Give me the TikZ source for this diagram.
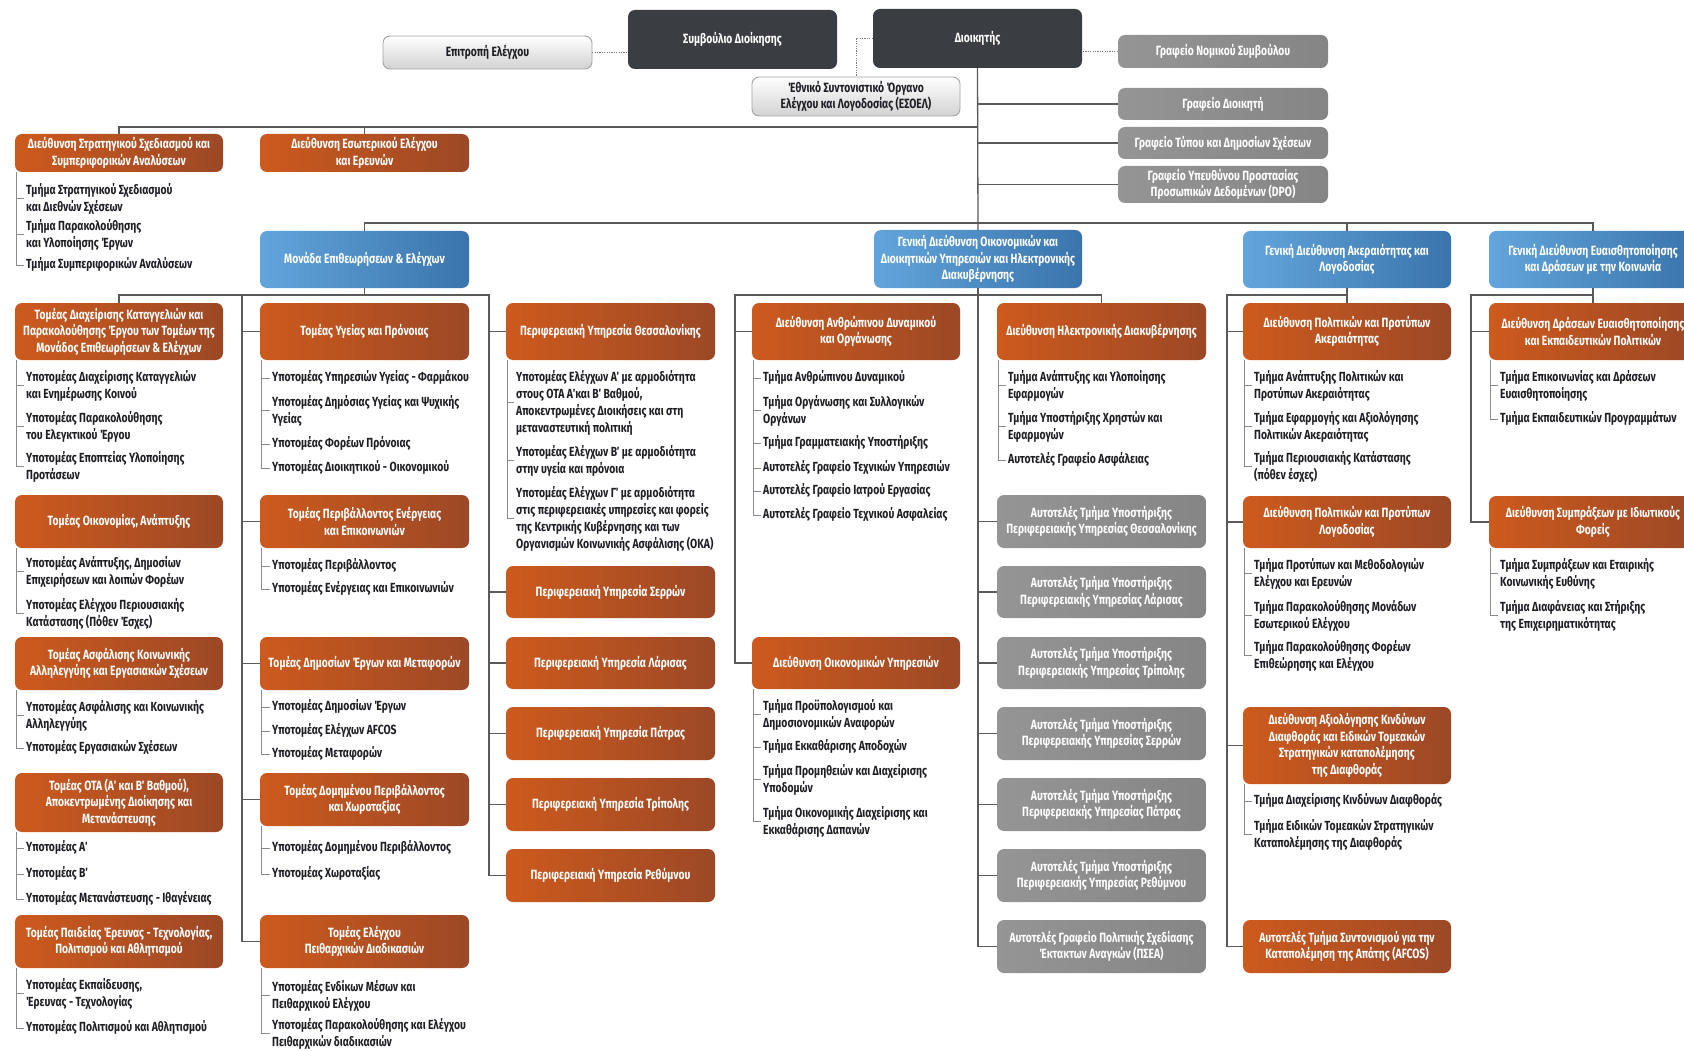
\documentclass[tikz,border=0pt]{standalone}
\usepackage{fontspec}
\setmainfont{Fira Sans}[FakeStretch=0.78]
\newfontfamily\boxfont{Fira Sans}[FakeStretch=0.77]
\newfontfamily\itfont{Fira Sans}[FakeStretch=0.785]
\usetikzlibrary{calc}
\definecolor{orL}{HTML}{CD5A1D}
\definecolor{orR}{HTML}{9C4826}
\definecolor{blL}{HTML}{62A5DC}
\definecolor{blR}{HTML}{3A74AC}
\definecolor{grL}{HTML}{959595}
\definecolor{grR}{HTML}{858585}
\definecolor{dk}{HTML}{3A3D42}
\definecolor{ltB}{HTML}{D2D2D2}
\definecolor{ltD}{HTML}{A3A3A3}
\definecolor{lnC}{HTML}{5A5A5A}
\definecolor{trC}{HTML}{8A8A8A}
\definecolor{txC}{HTML}{1E1E24}
\tikzset{
  ofill/.style={left color=orL, right color=orR},
  bfill/.style={left color=blL, right color=blR},
  gfill/.style={left color=grL, right color=grR},
  dfill/.style={fill=dk},
  lfill/.style={top color=white, bottom color=ltB, draw=ltD, line width=0.9pt},
  wtext/.style={text=white, font=\boxfont\bfseries\fontsize{13.4}{16.5}\selectfont, align=center, inner sep=0pt},
  otext/.style={wtext}, btext/.style={wtext}, gtext/.style={wtext}, dtext/.style={wtext},
  ltext/.style={wtext, text=txC},
  itext/.style={text=txC, font=\itfont\bfseries\fontsize{13.2}{17}\selectfont, align=left, inner sep=0pt, anchor=north west},
  conn/.style={draw=lnC, line width=1.3pt},
  dotc/.style={draw=lnC!80, line width=1pt, dash pattern=on 1.2pt off 1.2pt},
  treel/.style={draw=trC, line width=0.8pt},
}
\newcommand\bx[7]{%
  \pgfmathsetmacro\bxw{#5-#3}\pgfmathsetmacro\bxh{#6-#4}%
  \path[#1fill] ({(#3+#5)/2},#6) [rounded corners=7pt] -- (#3,#6) -- (#3,#4) -- (#5,#4) -- (#5,#6) [sharp corners] -- cycle;
  \node[#1text, minimum width=\bxw pt, minimum height=\bxh pt] (#2) at ({(#3+#5)/2},{(#4+#6)/2}) {#7};}
\newcommand\itm[4]{\node[itext] (#1) at (#2,{#3-7.8}) {\strut #4};}
\newcommand\tree[2]{\foreach \k in {#2} {\draw[treel] ([xshift=2pt]#1.south west) |- ([xshift=-2pt]\k.west);}}
\begin{document}
\begin{tikzpicture}[x=1pt,y=-1pt]
\fill[white] (0,0) rectangle (1684,1051);
\useasboundingbox (0,0) rectangle (1684,1051);
% top
\bx{l}{epit}{383}{36}{592}{69}{Επιτροπή Ελέγχου}
\bx{d}{symv}{628}{10}{837}{69}{Συμβούλιο Διοίκησης}
\bx{d}{dioik}{873}{9}{1082}{68}{Διοικητής}
\bx{l}{esoel}{752}{77}{960}{116}{Έθνικό Συντονιστικό Όργανο\\Ελέγχου και Λογοδοσίας (ΕΣΟΕΛ)}
\bx{g}{nomik}{1118}{35}{1328}{68}{Γραφείο Νομικού Συμβούλου}
\bx{g}{grdioik}{1118}{88}{1328}{120}{Γραφείο Διοικητή}
\bx{g}{typou}{1118}{127}{1328}{159}{Γραφείο Τύπου και Δημοσίων Σχέσεων}
\bx{g}{dpo}{1118}{166}{1328}{203}{Γραφείο Υπευθύνου Προστασίας\\Προσωπικών Δεδομένων (DPO)}
% row 1
\bx{o}{strat}{15}{134}{223}{172}{Διεύθυνση Στρατηγικού Σχεδιασμού και\\Συμπεριφορικών Αναλύσεων}
\bx{o}{esot}{260}{134}{469}{172}{Διεύθυνση Εσωτερικού Ελέγχου\\και Ερευνών}
\itm{s1}{26}{190}{Τμήμα Στρατηγικού Σχεδιασμού\\και Διεθνών Σχέσεων}
\itm{s2}{26}{226}{Τμήμα Παρακολούθησης\\και Υλοποίησης Έργων}
\itm{s3}{26}{264}{Τμήμα Συμπεριφορικών Αναλύσεων}
\tree{strat}{s1,s2,s3}
% blue
\bx{b}{monada}{260}{231}{469}{288}{Μονάδα Επιθεωρήσεων \& Ελέγχων}
\bx{b}{gdoik}{874}{230}{1082}{288}{Γενική Διεύθυνση Οικονομικών και\\Διοικητικών Υπηρεσιών και Ηλεκτρονικής\\Διακυβέρνησης}
\bx{b}{gdak}{1243}{231}{1451}{288}{Γενική Διεύθυνση Ακεραιότητας και\\Λογοδοσίας}
\bx{b}{gdeu}{1489}{231}{1697}{288}{Γενική Διεύθυνση Ευαισθητοποίησης\\και Δράσεων με την Κοινωνία}
% column A
\bx{o}{A1}{15}{303}{223}{360}{Τομέας Διαχείρισης Καταγγελιών και\\Παρακολούθησης Έργου των Τομέων της\\Μονάδος Επιθεωρήσεων \& Ελέγχων}
\itm{a11}{26}{377}{Υποτομέας Διαχείρισης Καταγγελιών\\και Ενημέρωσης Κοινού}
\itm{a12}{26}{418}{Υποτομέας Παρακολούθησης\\του Ελεγκτικού Έργου}
\itm{a13}{26}{458}{Υποτομέας Εποπτείας Υλοποίησης\\Προτάσεων}
\tree{A1}{a11,a12,a13}
\bx{o}{A2}{15}{495}{223}{548}{Τομέας Οικονομίας, Ανάπτυξης}
\itm{a21}{26}{563}{Υποτομέας Ανάπτυξης, Δημοσίων\\Επιχειρήσεων και λοιπών Φορέων}
\itm{a22}{26}{605}{Υποτομέας Ελέγχου Περιουσιακής\\Κατάστασης (Πόθεν Έσχες)}
\tree{A2}{a21,a22}
\bx{o}{A3}{15}{637}{223}{690}{Τομέας Ασφάλισης Κοινωνικής\\Αλληλεγγύης και Εργασιακών Σχέσεων}
\itm{a31}{26}{707}{Υποτομέας Ασφάλισης και Κοινωνικής\\Αλληλεγγύης}
\itm{a32}{26}{747}{Υποτομέας Εργασιακών Σχέσεων}
\tree{A3}{a31,a32}
\bx{o}{A4}{15}{773}{223}{832}{Τομέας ΟΤΑ (Α΄ και Β΄ Βαθμού),\\Αποκεντρωμένης Διοίκησης και\\Μετανάστευσης}
\itm{a41}{26}{847}{Υποτομέας Α΄}
\itm{a42}{26}{873}{Υποτομέας Β΄}
\itm{a43}{26}{898}{Υποτομέας Μετανάστευσης - Ιθαγένειας}
\tree{A4}{a41,a42,a43}
\bx{o}{A5}{15}{915}{223}{968}{Τομέας Παιδείας Έρευνας - Τεχνολογίας,\\Πολιτισμού και Αθλητισμού}
\itm{a51}{26}{985}{Υποτομέας Εκπαίδευσης,\\Έρευνας - Τεχνολογίας}
\itm{a52}{26}{1027}{Υποτομέας Πολιτισμού και Αθλητισμού}
\tree{A5}{a51,a52}
% column B
\bx{o}{B1}{260}{303}{469}{360}{Τομέας Υγείας και Πρόνοιας}
\itm{b11}{272}{377}{Υποτομέας Υπηρεσιών Υγείας - Φαρμάκου}
\itm{b12}{272}{402}{Υποτομέας Δημόσιας Υγείας και Ψυχικής\\Υγείας}
\itm{b13}{272}{443}{Υποτομέας Φορέων Πρόνοιας}
\itm{b14}{272}{467}{Υποτομέας Διοικητικού - Οικονομικού}
\tree{B1}{b11,b12,b13,b14}
\bx{o}{B2}{260}{495}{469}{548}{Τομέας Περιβάλλοντος Ενέργειας\\και Επικοινωνιών}
\itm{b21}{272}{565}{Υποτομέας Περιβάλλοντος}
\itm{b22}{272}{588}{Υποτομέας Ενέργειας και Επικοινωνιών}
\tree{B2}{b21,b22}
\bx{o}{B3}{260}{637}{469}{690}{Τομέας Δημοσίων Έργων και Μεταφορών}
\itm{b31}{272}{706}{Υποτομέας Δημοσίων Έργων}
\itm{b32}{272}{730}{Υποτομέας Ελέγχων AFCOS}
\itm{b33}{272}{753}{Υποτομέας Μεταφορών}
\tree{B3}{b31,b32,b33}
\bx{o}{B4}{260}{773}{469}{826}{Τομέας Δομημένου Περιβάλλοντος\\και Χωροταξίας}
\itm{b41}{272}{847}{Υποτομέας Δομημένου Περιβάλλοντος}
\itm{b42}{272}{873}{Υποτομέας Χωροταξίας}
\tree{B4}{b41,b42}
\bx{o}{B5}{260}{915}{469}{968}{Τομέας Ελέγχου\\Πειθαρχικών Διαδικασιών}
\itm{b51}{272}{987}{Υποτομέας Ενδίκων Μέσων και\\Πειθαρχικού Ελέγχου}
\itm{b52}{272}{1025}{Υποτομέας Παρακολούθησης και Ελέγχου\\Πειθαρχικών διαδικασιών}
\tree{B5}{b51,b52}
% column C
\bx{o}{P1}{506}{303}{715}{360}{Περιφερειακή Υπηρεσία Θεσσαλονίκης}
\itm{p11}{516}{377}{Υποτομέας Ελέγχων Α΄ με αρμοδιότητα\\στους ΟΤΑ Α΄και Β΄ Βαθμού,\\Αποκεντρωμένες Διοικήσεις και στη\\μεταναστευτική πολιτική}
\itm{p12}{516}{452}{Υποτομέας Ελέγχων Β΄ με αρμοδιότητα\\στην υγεία και πρόνοια}
\itm{p13}{516}{493}{Υποτομέας Ελέγχων Γ΄ με αρμοδιότητα\\στις περιφερειακές υπηρεσίες και φορείς\\της Κεντρικής Κυβέρνησης και των\\Οργανισμών Κοινωνικής Ασφάλισης (ΟΚΑ)}
\tree{P1}{p11,p12,p13}
\bx{o}{P2}{506}{566}{715}{618}{Περιφερειακή Υπηρεσία Σερρών}
\bx{o}{P3}{506}{637}{715}{689}{Περιφερειακή Υπηρεσία Λάρισας}
\bx{o}{P4}{506}{707}{715}{760}{Περιφερειακή Υπηρεσία Πάτρας}
\bx{o}{P5}{506}{778}{715}{831}{Περιφερειακή Υπηρεσία Τρίπολης}
\bx{o}{P6}{506}{849}{715}{902}{Περιφερειακή Υπηρεσία Ρεθύμνου}
% column D
\bx{o}{D1}{752}{303}{960}{360}{Διεύθυνση Ανθρώπινου Δυναμικού\\και Οργάνωσης}
\itm{d11}{763}{377}{Τμήμα Ανθρώπινου Δυναμικού}
\itm{d12}{763}{402}{Τμήμα Οργάνωσης και Συλλογικών\\Οργάνων}
\itm{d13}{763}{442}{Τμήμα Γραμματειακής Υποστήριξης}
\itm{d14}{763}{467}{Αυτοτελές Γραφείο Τεχνικών Υπηρεσιών}
\itm{d15}{763}{490}{Αυτοτελές Γραφείο Ιατρού Εργασίας}
\itm{d16}{763}{514}{Αυτοτελές Γραφείο Τεχνικού Ασφαλείας}
\tree{D1}{d11,d12,d13,d14,d15,d16}
\bx{o}{D2}{752}{637}{960}{689}{Διεύθυνση Οικονομικών Υπηρεσιών}
\itm{d21}{763}{706}{Τμήμα Προϋπολογισμού και\\Δημοσιονομικών Αναφορών}
\itm{d22}{763}{746}{Τμήμα Εκκαθάρισης Αποδοχών}
\itm{d23}{763}{771}{Τμήμα Προμηθειών και Διαχείρισης\\Υποδομών}
\itm{d24}{763}{813}{Τμήμα Οικονομικής Διαχείρισης και\\Εκκαθάρισης Δαπανών}
\tree{D2}{d21,d22,d23,d24}
% column E
\bx{o}{E1}{997}{303}{1206}{360}{Διεύθυνση Ηλεκτρονικής Διακυβέρνησης}
\itm{e11}{1008}{377}{Τμήμα Ανάπτυξης και Υλοποίησης\\Εφαρμογών}
\itm{e12}{1008}{418}{Τμήμα Υποστήριξης Χρηστών και\\Εφαρμογών}
\itm{e13}{1008}{459}{Αυτοτελές Γραφείο Ασφάλειας}
\tree{E1}{e11,e12,e13}
\bx{g}{G1}{997}{495}{1206}{548}{Αυτοτελές Τμήμα Υποστήριξης\\Περιφερειακής Υπηρεσίας Θεσσαλονίκης}
\bx{g}{G2}{997}{566}{1206}{618}{Αυτοτελές Τμήμα Υποστήριξης\\Περιφερειακής Υπηρεσίας Λάρισας}
\bx{g}{G3}{997}{637}{1206}{689}{Αυτοτελές Τμήμα Υποστήριξης\\Περιφερειακής Υπηρεσίας Τρίπολης}
\bx{g}{G4}{997}{707}{1206}{760}{Αυτοτελές Τμήμα Υποστήριξης\\Περιφερειακής Υπηρεσίας Σερρών}
\bx{g}{G5}{997}{778}{1206}{831}{Αυτοτελές Τμήμα Υποστήριξης\\Περιφερειακής Υπηρεσίας Πάτρας}
\bx{g}{G6}{997}{849}{1206}{902}{Αυτοτελές Τμήμα Υποστήριξης\\Περιφερειακής Υπηρεσίας Ρεθύμνου}
\bx{g}{G7}{997}{920}{1206}{973}{Αυτοτελές Γραφείο Πολιτικής Σχεδίασης\\Έκτακτων Αναγκών (ΠΣΕΑ)}
% column F
\bx{o}{F1}{1243}{303}{1451}{360}{Διεύθυνση Πολιτικών και Προτύπων\\Ακεραιότητας}
\itm{f11}{1254}{377}{Τμήμα Ανάπτυξης Πολιτικών και\\Προτύπων Ακεραιότητας}
\itm{f12}{1254}{418}{Τμήμα Εφαρμογής και Αξιολόγησης\\Πολιτικών Ακεραιότητας}
\itm{f13}{1254}{458}{Τμήμα Περιουσιακής Κατάστασης\\(πόθεν έσχες)}
\tree{F1}{f11,f12,f13}
\bx{o}{F2}{1243}{496}{1451}{548}{Διεύθυνση Πολιτικών και Προτύπων\\Λογοδοσίας}
\itm{f21}{1254}{565}{Τμήμα Προτύπων και Μεθοδολογιών\\Ελέγχου και Ερευνών}
\itm{f22}{1254}{607}{Τμήμα Παρακολούθησης Μονάδων\\Εσωτερικού Ελέγχου}
\itm{f23}{1254}{647}{Τμήμα Παρακολούθησης Φορέων\\Επιθεώρησης και Ελέγχου}
\tree{F2}{f21,f22,f23}
\bx{o}{F3}{1243}{707}{1451}{784}{Διεύθυνση Αξιολόγησης Κινδύνων\\Διαφθοράς και Ειδικών Τομεακών\\Στρατηγικών καταπολέμησης\\της Διαφθοράς}
\itm{f31}{1254}{800}{Τμήμα Διαχείρισης Κινδύνων Διαφθοράς}
\itm{f32}{1254}{826}{Τμήμα Ειδικών Τομεακών Στρατηγικών\\Καταπολέμησης της Διαφθοράς}
\tree{F3}{f31,f32}
\bx{o}{F4}{1243}{920}{1451}{973}{Αυτοτελές Τμήμα Συντονισμού για την\\Καταπολέμηση της Απάτης (AFCOS)}
% column G
\bx{o}{H1}{1489}{303}{1697}{360}{Διεύθυνση Δράσεων Ευαισθητοποίησης\\και Εκπαιδευτικών Πολιτικών}
\itm{h11}{1500}{377}{Τμήμα Επικοινωνίας και Δράσεων\\Ευαισθητοποίησης}
\itm{h12}{1500}{418}{Τμήμα Εκπαιδευτικών Προγραμμάτων}
\tree{H1}{h11,h12}
\bx{o}{H2}{1489}{496}{1697}{548}{Διεύθυνση Συμπράξεων με Ιδιωτικούς\\Φορείς}
\itm{h21}{1500}{565}{Τμήμα Συμπράξεων και Εταιρικής\\Κοινωνικής Ευθύνης}
\itm{h22}{1500}{607}{Τμήμα Διαφάνειας και Στήριξης\\της Επιχειρηματικότητας}
\tree{H2}{h21,h22}
% connectors
\draw[dotc] (epit.east) -- (epit.east -| symv.west);
\draw[dotc] (nomik.west) -- (nomik.west -| dioik.east);
\draw[dotc] (dioik.west) -| (esoel.north);
\draw[conn] (dioik.south) -- (gdoik.north);
\coordinate (h1) at (978,127);
\draw[conn] (strat.north) |- (h1);
\draw[conn] (esot.north) |- (h1);
\foreach \n in {grdioik,typou,dpo} {\draw[conn] (\n.west) -- (\n.west -| dioik.south);}
\coordinate (h2) at (978,223);
\draw[conn] (monada.north) |- (h2);
\draw[conn] (gdeu.north) |- (h2);
\draw[conn] (gdak.north) -- (gdak.north |- h2);
% under Monada
\coordinate (cB) at (489,295);
\coordinate (cA) at (242,295);
\draw[conn] (monada.south) -- (monada.south |- cB);
\draw[conn] (A1.north) |- (cB) |- (P6.west);
\draw[conn] (cA) |- (B5.west);
\foreach \n in {B1,B2,B3,B4} {\draw[conn] (\n.west) -- (\n.west -| cA);}
\foreach \n in {P1,P2,P3,P4,P5} {\draw[conn] (\n.west) -- (\n.west -| cB);}
% under GD oikonomikon
\coordinate (cD) at (735,295);
\draw[conn] (E1.north) |- (cD) |- (D2.west);
\draw[conn] (D1.west) -- (D1.west -| cD);
\draw[conn] (gdoik.south) |- (G7.west);
\foreach \n in {G1,G2,G3,G4,G5,G6} {\draw[conn] (\n.west) -- (\n.west -| gdoik.south);}
% under GD akeraiotitas
\coordinate (cF) at (1227,295);
\draw[conn] (gdak.south) -- (F1.north);
\draw[conn] (gdak.south |- cF) -- (cF) |- (F4.west);
\foreach \n in {F1,F2,F3} {\draw[conn] (\n.west) -- (\n.west -| cF);}
% under GD eyaisthitopoiisis
\coordinate (cH) at (1471,295);
\draw[conn] (gdeu.south) -- (H1.north);
\draw[conn] (gdeu.south |- cH) -- (cH) |- (H2.west);
\draw[conn] (H1.west) -- (H1.west -| cH);
\end{tikzpicture}
\end{document}
